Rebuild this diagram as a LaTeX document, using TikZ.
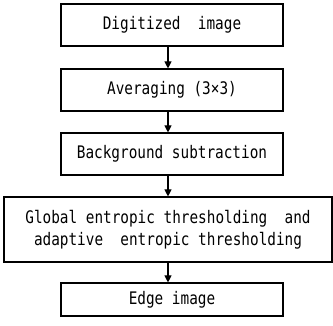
\documentclass[tikz,border=0pt]{standalone}
\usepackage{fontspec}
\setmonofont[FakeStretch=0.83]{DejaVu Sans Mono}
\usetikzlibrary{arrows.meta}
\begin{document}
\begin{tikzpicture}[x=1pt,y=1pt,
  stepbox/.style={draw, line width=1.1pt, inner sep=0pt, align=center,
    font=\ttfamily\fontsize{17.3}{22}\selectfont},
  flow/.style={line width=1.1pt, -{Triangle[length=7pt,width=7pt]}}]
\useasboundingbox (0,0) rectangle (333,-326);
\node[stepbox, minimum width=222pt, minimum height=42pt] (a) at (172,-25) {Digitized\ \ image};
\node[stepbox, minimum width=222pt, minimum height=42pt] (b) at (172,-90) {Averaging (3×3)};
\node[stepbox, minimum width=222pt, minimum height=42pt] (c) at (172,-154) {Background subtraction};
\node[stepbox, minimum width=328pt, minimum height=65pt] (d) at (168,-229.5) {Global entropic thresholding\ \ and\\adaptive\ \ entropic thresholding};
\node[stepbox, minimum width=222pt, minimum height=33pt] (e) at (172,-299.5) {Edge image};
\draw[flow] (a.south -| 168,0) -- (b.north -| 168,0);
\draw[flow] (b.south -| 168,0) -- (c.north -| 168,0);
\draw[flow] (c.south -| 168,0) -- (d.north -| 168,0);
\draw[flow] (d.south -| 168,0) -- (e.north -| 168,0);
\end{tikzpicture}
\end{document}
